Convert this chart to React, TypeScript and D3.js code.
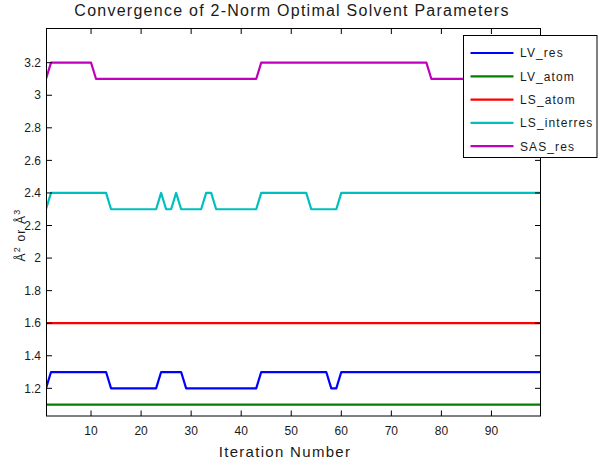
import React from 'react';
import * as d3 from 'd3';

const title = 'Convergence of 2-Norm Optimal Solvent Parameters';
const xLabel = 'Iteration Number';
const seriesNames = ['LV_res', 'LV_atom', 'LS_atom', 'LS_interres', 'SAS_res'];
const seriesColors = ['#0000ff', '#008000', '#ff0000', '#00bfbf', '#bf00bf'];
const xTicks = [10, 20, 30, 40, 50, 60, 70, 80, 90];
const yTicks = [1.2, 1.4, 1.6, 1.8, 2, 2.2, 2.4, 2.6, 2.8, 3, 3.2];

const lvRes = [
  1.2, 1.3, 1.3, 1.3, 1.3, 1.3, 1.3, 1.3, 1.3, 1.3,
  1.3, 1.3, 1.3, 1.2, 1.2, 1.2, 1.2, 1.2, 1.2, 1.2,
  1.2, 1.2, 1.2, 1.3, 1.3, 1.3, 1.3, 1.3, 1.2, 1.2,
  1.2, 1.2, 1.2, 1.2, 1.2, 1.2, 1.2, 1.2, 1.2, 1.2,
  1.2, 1.2, 1.2, 1.3, 1.3, 1.3, 1.3, 1.3, 1.3, 1.3,
  1.3, 1.3, 1.3, 1.3, 1.3, 1.3, 1.3, 1.2, 1.2, 1.3,
  1.3, 1.3, 1.3, 1.3, 1.3, 1.3, 1.3, 1.3, 1.3, 1.3,
  1.3, 1.3, 1.3, 1.3, 1.3, 1.3, 1.3, 1.3, 1.3, 1.3,
  1.3, 1.3, 1.3, 1.3, 1.3, 1.3, 1.3, 1.3, 1.3, 1.3,
  1.3, 1.3, 1.3, 1.3, 1.3, 1.3, 1.3, 1.3, 1.3, 1.3,
];
const lvAtom = [
  1.1, 1.1, 1.1, 1.1, 1.1, 1.1, 1.1, 1.1, 1.1, 1.1,
  1.1, 1.1, 1.1, 1.1, 1.1, 1.1, 1.1, 1.1, 1.1, 1.1,
  1.1, 1.1, 1.1, 1.1, 1.1, 1.1, 1.1, 1.1, 1.1, 1.1,
  1.1, 1.1, 1.1, 1.1, 1.1, 1.1, 1.1, 1.1, 1.1, 1.1,
  1.1, 1.1, 1.1, 1.1, 1.1, 1.1, 1.1, 1.1, 1.1, 1.1,
  1.1, 1.1, 1.1, 1.1, 1.1, 1.1, 1.1, 1.1, 1.1, 1.1,
  1.1, 1.1, 1.1, 1.1, 1.1, 1.1, 1.1, 1.1, 1.1, 1.1,
  1.1, 1.1, 1.1, 1.1, 1.1, 1.1, 1.1, 1.1, 1.1, 1.1,
  1.1, 1.1, 1.1, 1.1, 1.1, 1.1, 1.1, 1.1, 1.1, 1.1,
  1.1, 1.1, 1.1, 1.1, 1.1, 1.1, 1.1, 1.1, 1.1, 1.1,
];
const lsAtom = [
  1.6, 1.6, 1.6, 1.6, 1.6, 1.6, 1.6, 1.6, 1.6, 1.6,
  1.6, 1.6, 1.6, 1.6, 1.6, 1.6, 1.6, 1.6, 1.6, 1.6,
  1.6, 1.6, 1.6, 1.6, 1.6, 1.6, 1.6, 1.6, 1.6, 1.6,
  1.6, 1.6, 1.6, 1.6, 1.6, 1.6, 1.6, 1.6, 1.6, 1.6,
  1.6, 1.6, 1.6, 1.6, 1.6, 1.6, 1.6, 1.6, 1.6, 1.6,
  1.6, 1.6, 1.6, 1.6, 1.6, 1.6, 1.6, 1.6, 1.6, 1.6,
  1.6, 1.6, 1.6, 1.6, 1.6, 1.6, 1.6, 1.6, 1.6, 1.6,
  1.6, 1.6, 1.6, 1.6, 1.6, 1.6, 1.6, 1.6, 1.6, 1.6,
  1.6, 1.6, 1.6, 1.6, 1.6, 1.6, 1.6, 1.6, 1.6, 1.6,
  1.6, 1.6, 1.6, 1.6, 1.6, 1.6, 1.6, 1.6, 1.6, 1.6,
];
const lsInterres = [
  2.3, 2.4, 2.4, 2.4, 2.4, 2.4, 2.4, 2.4, 2.4, 2.4,
  2.4, 2.4, 2.4, 2.3, 2.3, 2.3, 2.3, 2.3, 2.3, 2.3,
  2.3, 2.3, 2.3, 2.4, 2.3, 2.3, 2.4, 2.3, 2.3, 2.3,
  2.3, 2.3, 2.4, 2.4, 2.3, 2.3, 2.3, 2.3, 2.3, 2.3,
  2.3, 2.3, 2.3, 2.4, 2.4, 2.4, 2.4, 2.4, 2.4, 2.4,
  2.4, 2.4, 2.4, 2.3, 2.3, 2.3, 2.3, 2.3, 2.3, 2.4,
  2.4, 2.4, 2.4, 2.4, 2.4, 2.4, 2.4, 2.4, 2.4, 2.4,
  2.4, 2.4, 2.4, 2.4, 2.4, 2.4, 2.4, 2.4, 2.4, 2.4,
  2.4, 2.4, 2.4, 2.4, 2.4, 2.4, 2.4, 2.4, 2.4, 2.4,
  2.4, 2.4, 2.4, 2.4, 2.4, 2.4, 2.4, 2.4, 2.4, 2.4,
];
const sasRes = [
  3.1, 3.2, 3.2, 3.2, 3.2, 3.2, 3.2, 3.2, 3.2, 3.2,
  3.1, 3.1, 3.1, 3.1, 3.1, 3.1, 3.1, 3.1, 3.1, 3.1,
  3.1, 3.1, 3.1, 3.1, 3.1, 3.1, 3.1, 3.1, 3.1, 3.1,
  3.1, 3.1, 3.1, 3.1, 3.1, 3.1, 3.1, 3.1, 3.1, 3.1,
  3.1, 3.1, 3.1, 3.2, 3.2, 3.2, 3.2, 3.2, 3.2, 3.2,
  3.2, 3.2, 3.2, 3.2, 3.2, 3.2, 3.2, 3.2, 3.2, 3.2,
  3.2, 3.2, 3.2, 3.2, 3.2, 3.2, 3.2, 3.2, 3.2, 3.2,
  3.2, 3.2, 3.2, 3.2, 3.2, 3.2, 3.2, 3.1, 3.1, 3.1,
  3.1, 3.1, 3.1, 3.1, 3.1, 3.1, 3.1, 3.1, 3.1, 3.1,
  3.1, 3.1, 3.1, 3.1, 3.1, 3.1, 3.1, 3.1, 3.1, 3.1,
];
const seriesValues = [lvRes, lvAtom, lsAtom, lsInterres, sasRes];

const W = 600;
const H = 463;
const left = 46.5;
const right = 540.5;
const top = 28.5;
const bottom = 416;
const font = '"Liberation Sans", Arial, Helvetica, sans-serif';

export default function App() {
  const x = d3.scaleLinear().domain([1, 100]).range([left - 0.5, right + 1]);
  const y = d3.scaleLinear().domain([1.03, 3.41]).range([bottom, top]);
  const line = d3
    .line<number>()
    .x((_, i) => x(i + 1))
    .y((d) => y(d));
  const fmt = (v: number) => d3.format('~g')(v);
  const tickLen = 5.5;

  const legX = 463.5;
  const legY = 35.5;
  const legW = 133.5;
  const legH = 122;
  const rowY0 = 53;
  const rowStep = 23.3;

  return (
    <svg
      width={W}
      height={H}
      style={{ position: 'absolute', left: 0, top: 0, background: '#fff' }}
      fontFamily={font}
    >
      <rect x={0} y={0} width={W} height={H} fill="#fff" />
      <defs>
        <clipPath id="plotClip">
          <rect x={left} y={top} width={right - left} height={bottom - top} />
        </clipPath>
      </defs>

      {/* data lines */}
      <g clipPath="url(#plotClip)">
        {seriesValues.map((vals, k) => (
          <path
            key={seriesNames[k]}
            d={line(vals) || ''}
            fill="none"
            stroke={seriesColors[k]}
            strokeWidth={2.2}
            strokeLinejoin="round"
          />
        ))}
      </g>

      {/* frame */}
      <rect
        x={left}
        y={top}
        width={right - left}
        height={bottom - top}
        fill="none"
        stroke="#000"
        strokeWidth={1}
      />

      {/* x ticks */}
      {xTicks.map((t) => (
        <g key={'x' + t}>
          <line x1={x(t)} x2={x(t)} y1={bottom} y2={bottom - tickLen} stroke="#000" />
          <line x1={x(t)} x2={x(t)} y1={top} y2={top + tickLen} stroke="#000" />
          <text
            x={x(t)}
            y={435}
            textAnchor="middle"
            fontSize={12}
            fill="#1a1a1a"
          >
            {fmt(t)}
          </text>
        </g>
      ))}

      {/* y ticks */}
      {yTicks.map((t) => (
        <g key={'y' + t}>
          <line x1={left} x2={left + tickLen} y1={y(t)} y2={y(t)} stroke="#000" />
          <line x1={right} x2={right - tickLen} y1={y(t)} y2={y(t)} stroke="#000" />
          <text
            x={41}
            y={y(t)}
            dy="0.35em"
            textAnchor="end"
            fontSize={12}
            fill="#1a1a1a"
          >
            {fmt(t)}
          </text>
        </g>
      ))}

      {/* title */}
      <text
        x={292}
        y={16}
        textAnchor="middle"
        fontSize={16}
        letterSpacing={1.25}
        fill="#1a1a1a"
      >
        {title}
      </text>

      {/* x label */}
      <text
        x={285}
        y={457}
        textAnchor="middle"
        fontSize={15}
        letterSpacing={1.3}
        fill="#1a1a1a"
      >
        {xLabel}
      </text>

      {/* y label */}
      <text
        transform="translate(25,235) rotate(-90)"
        textAnchor="middle"
        fontSize={12}
        letterSpacing={1.2}
        fill="#1a1a1a"
      >
        Å
        <tspan fontSize={9} dy={-5}>2</tspan>
        <tspan dy={5}> or Å</tspan>
        <tspan fontSize={9} dy={-5}>3</tspan>
      </text>

      {/* legend */}
      <rect x={legX} y={legY} width={legW} height={legH} fill="#fff" stroke="#000" strokeWidth={1} />
      {seriesNames.map((name, k) => {
        const ry = rowY0 + k * rowStep;
        return (
          <g key={'leg' + name}>
            <line x1={470.5} x2={513.5} y1={ry} y2={ry} stroke={seriesColors[k]} strokeWidth={2.2} />
            <text x={520} y={ry} dy="0.36em" fontSize={12} letterSpacing={1.1} fill="#1a1a1a">
              {name}
            </text>
          </g>
        );
      })}
    </svg>
  );
}
